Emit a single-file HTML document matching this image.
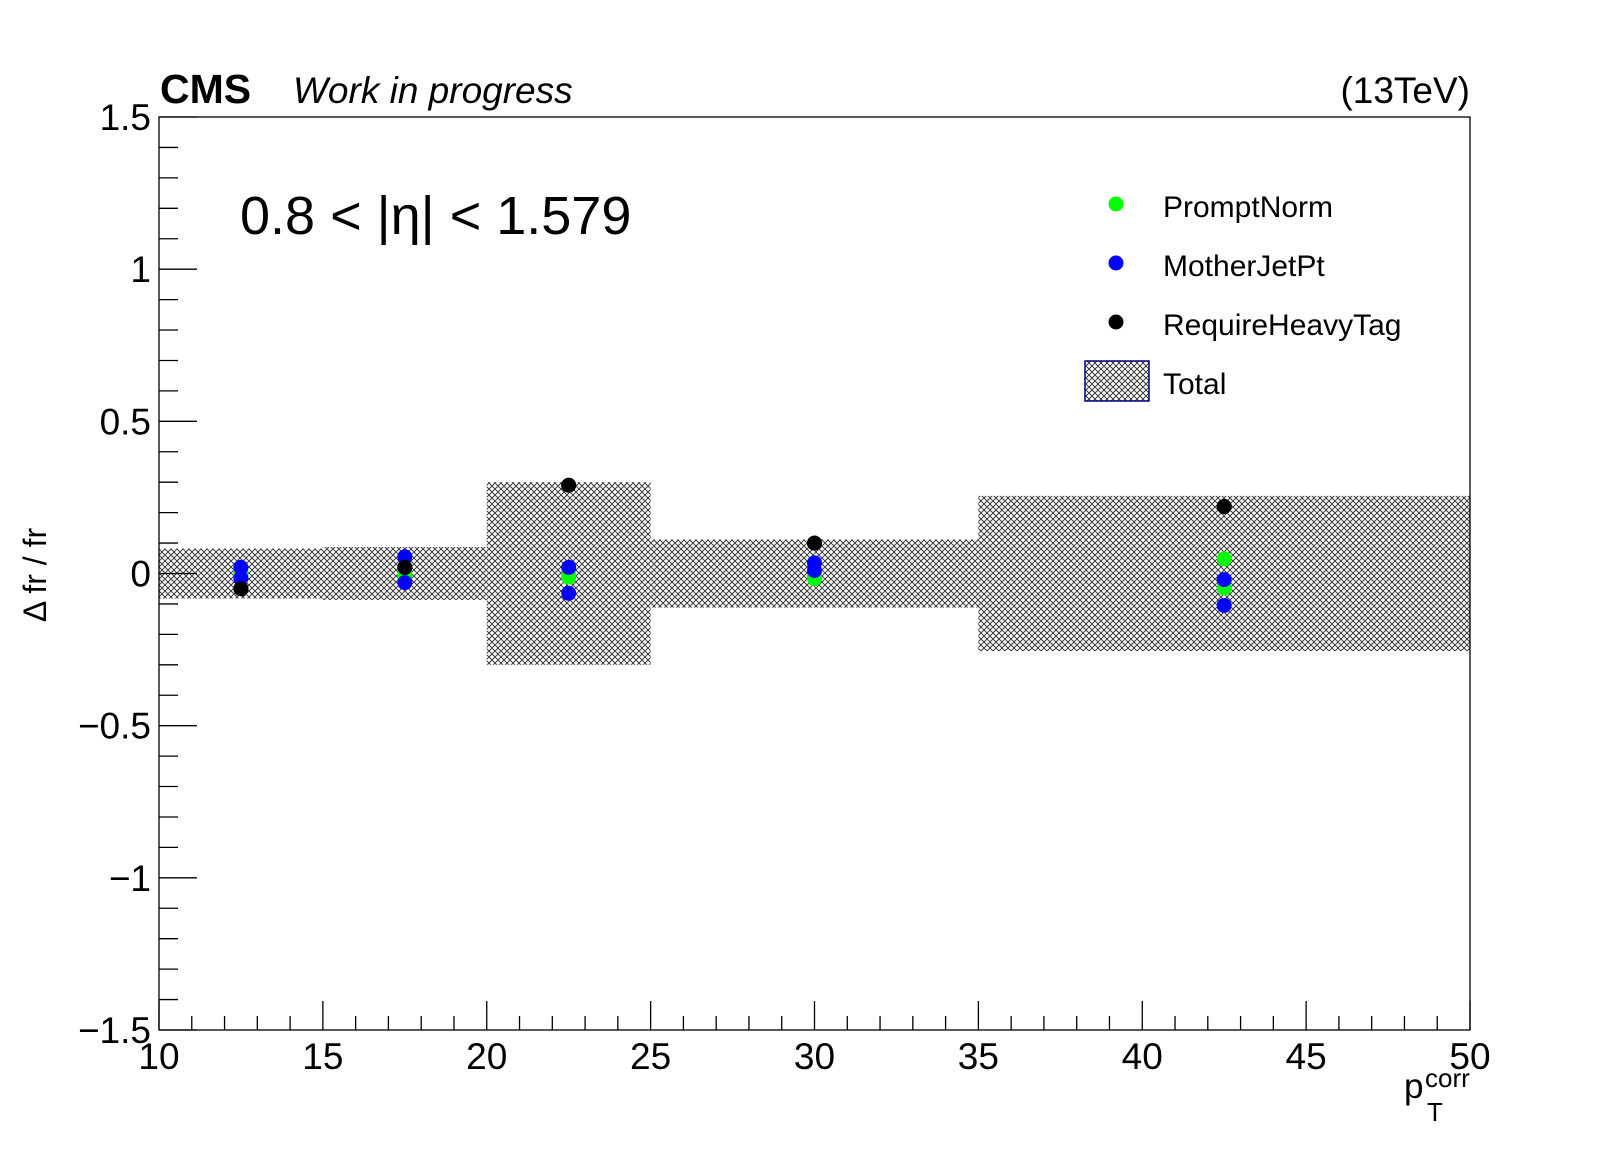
<!DOCTYPE html>
<html><head><meta charset="utf-8"><style>
html,body{margin:0;padding:0;background:#fff}
svg{display:block;font-family:"Liberation Sans",sans-serif}
</style></head><body>
<svg id="chart" width="1598" height="1171" viewBox="0 0 1598 1171" xmlns="http://www.w3.org/2000/svg">
<defs>
<pattern id="hatch" patternUnits="userSpaceOnUse" width="6" height="6">
<path d="M0,0 L6,6 M6,0 L0,6" stroke="#3a3a3a" stroke-width="1"/>
</pattern>
</defs>
<rect width="1598" height="1171" fill="#fff"/>
<g id="bands"></g>
<g id="points"></g>
<g id="axes"></g>
<text x="160" y="103" font-size="41" font-weight="bold">CMS</text>
<text x="293" y="103" font-size="37" font-style="italic">Work in progress</text>
<text x="1470" y="103" font-size="37" text-anchor="end">(13TeV)</text>
<text x="240" y="234" font-size="54">0.8 &lt; |η| &lt; 1.579</text>
<text transform="translate(46,575) rotate(-90)" font-size="32" text-anchor="middle">Δ fr / fr</text>
<g>
<text x="1404" y="1098" font-size="35">p</text>
<text x="1425" y="1087" font-size="26">corr</text>
<text x="1427" y="1121" font-size="26">T</text>
</g>
<g>
<g><circle cx="1116" cy="204" r="7.5" fill="#00ff00"/><text x="1163" y="217" font-size="30">PromptNorm</text></g>
<g><circle cx="1116" cy="263" r="7.5" fill="#0000ff"/><text x="1163" y="276" font-size="30">MotherJetPt</text></g>
<g><circle cx="1116" cy="322" r="7.5" fill="#000"/><text x="1163" y="335" font-size="30">RequireHeavyTag</text></g>
<g><rect x="1085" y="361" width="64" height="40" fill="url(#hatch)" stroke="#000080" stroke-width="1.5"/><text x="1163" y="394" font-size="30">Total</text></g>
</g>
</svg>
<script>
const binEdges=[10,15,20,25,35,50];
const totalUnc=[0.082,0.087,0.30,0.112,0.255];
const pointX=[12.5,17.5,22.5,30,42.5];
const promptUp=[0.005,0.005,-0.005,-0.01,0.048];
const promptDown=[-0.005,-0.005,-0.012,-0.017,-0.048];
const motherUp=[0.02,0.055,0.02,0.035,-0.02];
const motherDown=[-0.015,-0.03,-0.065,0.01,-0.105];
const heavyUp=[-0.05,0.02,0.29,0.10,0.22];
const heavyDown=[-0.05,0.02,0.29,0.10,0.22];
const xTicks=[10,15,20,25,30,35,40,45,50];
const yTicks=[-1.5,-1,-0.5,0,0.5,1,1.5];
const yTickLabels=["\u22121.5","\u22121","\u22120.5","0","0.5","1","1.5"];

const L=159,R=1470,T=117,B=1030;
const xMin=10,xMax=50,yMin=-1.5,yMax=1.5;
function sx(v){return L+(v-xMin)/(xMax-xMin)*(R-L);}
function sy(v){return B-(v-yMin)/(yMax-yMin)*(B-T);}
const NS="http://www.w3.org/2000/svg";
function mk(tag,attrs,parent){const e=document.createElementNS(NS,tag);for(const k in attrs)e.setAttribute(k,attrs[k]);parent.appendChild(e);return e;}

const bands=document.getElementById('bands');
for(let i=0;i<totalUnc.length;i++){
  const r=mk('rect',{x:sx(binEdges[i]),y:sy(totalUnc[i]),width:sx(binEdges[i+1])-sx(binEdges[i]),height:sy(-totalUnc[i])-sy(totalUnc[i]),fill:'url(#hatch)'},bands);
  
  
}
const pts=document.getElementById('points');
const series=[[promptUp,'#00ff00','promptnorm-up'],[promptDown,'#00ff00','promptnorm-down'],[motherUp,'#0000ff','motherjetpt-up'],[motherDown,'#0000ff','motherjetpt-down'],[heavyUp,'#000000','requireheavytag-up'],[heavyDown,'#000000','requireheavytag-down']];
series.forEach(s=>{
  s[0].forEach((v,i)=>{
    const c=mk('circle',{cx:sx(pointX[i]),cy:sy(v),r:7.5,fill:s[1]},pts);
    
    
  });
});
const ax=document.getElementById('axes');
mk('rect',{x:L,y:T,width:R-L,height:B-T,fill:'none',stroke:'#000','stroke-width':1.3},ax);
for(let v=xMin;v<=xMax;v+=1){
  const major=(v%5===0);
  mk('line',{x1:sx(v),x2:sx(v),y1:B,y2:B-(major?29:14),stroke:'#000','stroke-width':1.3},ax);
}
xTicks.forEach(v=>{
  const t=mk('text',{x:sx(v),y:1069,'font-size':37,'text-anchor':'middle'},ax);
  t.textContent=v;
  
  
});
for(let k=-15;k<=15;k++){
  const v=k/10;const major=(k%5===0);
  mk('line',{x1:L,x2:L+(major?38:19),y1:sy(v),y2:sy(v),stroke:'#000','stroke-width':1.3},ax);
}
yTicks.forEach((v,i)=>{
  const t=mk('text',{x:151,y:sy(v)+13,'font-size':37,'text-anchor':'end'},ax);
  t.textContent=yTickLabels[i];
  
  
});
</script>
</body></html>
